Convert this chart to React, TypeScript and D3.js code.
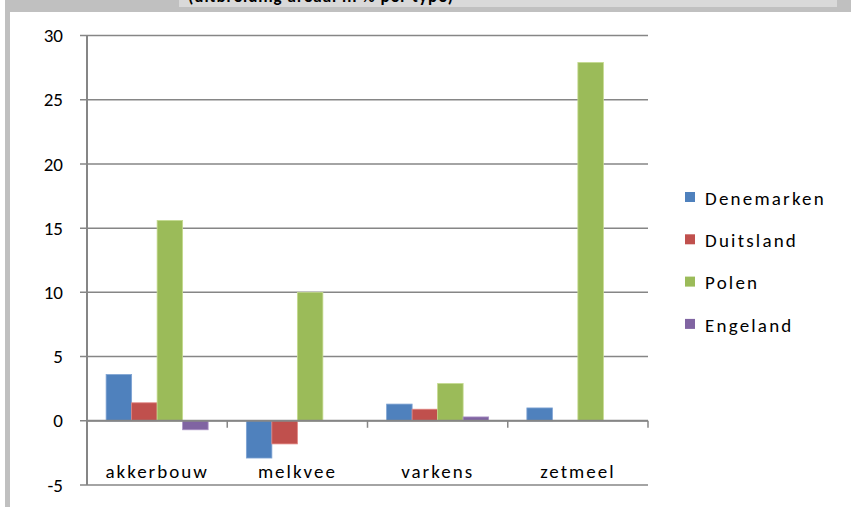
import React, { useEffect, useRef } from "react";
import * as d3 from "d3";

const categories = ["akkerbouw", "melkvee", "varkens", "zetmeel"];
const seriesNames = ["Denemarken", "Duitsland", "Polen", "Engeland"];
const denemarken = [3.6, -2.9, 1.3, 1.0];
const duitsland = [1.4, -1.8, 0.9, 0];
const polen = [15.6, 10.0, 2.9, 27.9];
const engeland = [-0.7, 0, 0.3, 0];
const yTicks = [-5, 0, 5, 10, 15, 20, 25, 30];
const colors = ["#4F81BD", "#C0504D", "#9BBB59", "#8064A2"];
const borders = ["#7EA3D3", "#E0837F", "#C4DA8E", "#A891C4"];

const W = 851;
const H = 507;

const App: React.FC = () => {
  const ref = useRef<SVGSVGElement | null>(null);

  useEffect(() => {
    if (!ref.current) return;
    const svg = d3.select(ref.current);
    svg.selectAll("*").remove();

    const values = [denemarken, duitsland, polen, engeland];
    const plot = { left: 87, right: 648, top: 35.5, bottom: 485 };
    const font = "Carlito, Lato, 'Noto Sans', sans-serif";

    // frame bits (cropped sheet)
    svg.append("rect").attr("width", W).attr("height", H).attr("fill", "#fff");
    svg.append("rect").attr("x", 5).attr("y", 0).attr("width", W - 5).attr("height", 12).attr("fill", "#C0C0C0");
    svg.append("rect").attr("x", 5).attr("y", 0).attr("width", 5).attr("height", H).attr("fill", "#C0C0C0");
    svg.append("rect").attr("x", 179).attr("y", 0).attr("width", 658).attr("height", 7).attr("fill", "#D9D9D9");
    svg.append("clipPath").attr("id", "tclip")
      .append("rect").attr("x", 179).attr("y", 0).attr("width", 658).attr("height", 7);
    svg.append("text")
      .attr("clip-path", "url(#tclip)")
      .attr("x", 188).attr("y", 2)
      .style("font-family", font).style("font-size", "17px").style("font-weight", "bold")
      .style("letter-spacing", "1px")
      .attr("fill", "#000")
      .text("(uitbreiding areaal in % per type)");

    const y = d3.scaleLinear().domain([-5, 30]).range([plot.bottom, plot.top]);
    const x0 = d3.scaleBand().domain(categories).range([plot.left, plot.right]);
    const bw = x0.bandwidth() / 5.5;
    const x1 = d3.scaleBand()
      .domain(seriesNames)
      .range([bw * 0.75, bw * 4.75]);

    const grid = "#868686";
    // gridlines + y ticks
    svg.append("g").selectAll("line").data(yTicks).join("line")
      .attr("x1", plot.left - 7).attr("x2", plot.right)
      .attr("y1", (d) => y(d)).attr("y2", (d) => y(d))
      .attr("stroke", grid).attr("stroke-width", 1.5);

    svg.append("g").selectAll("text").data(yTicks).join("text")
      .attr("x", 63).attr("y", (d) => y(d)).attr("dy", "0.35em")
      .attr("text-anchor", "end")
      .style("font-family", font).style("font-size", "19px")
      .attr("fill", "#000")
      .text((d) => d);

    // bars
    seriesNames.forEach((s, i) => {
      svg.append("g").selectAll("rect").data(values[i]).join("rect")
        .attr("x", (_, j) => (x0(categories[j]) ?? 0) + (x1(s) ?? 0))
        .attr("width", x1.bandwidth())
        .attr("y", (d) => y(Math.max(0, d)))
        .attr("height", (d) => Math.abs(y(d) - y(0)))
        .attr("fill", colors[i])
        .attr("stroke", (d) => (d === 0 ? "none" : borders[i]))
        .attr("stroke-width", 0.8);
    });

    // y axis
    svg.append("line")
      .attr("x1", plot.left).attr("x2", plot.left)
      .attr("y1", plot.top).attr("y2", plot.bottom)
      .attr("stroke", grid).attr("stroke-width", 2);

    // category axis at zero
    svg.append("line")
      .attr("x1", plot.left).attr("x2", plot.right)
      .attr("y1", y(0)).attr("y2", y(0))
      .attr("stroke", grid).attr("stroke-width", 2);
    svg.append("g").selectAll("line").data(categories).join("line")
      .attr("x1", (d) => (x0(d) ?? 0) + x0.bandwidth())
      .attr("x2", (d) => (x0(d) ?? 0) + x0.bandwidth())
      .attr("y1", y(0)).attr("y2", y(0) + 7)
      .attr("stroke", grid).attr("stroke-width", 1.5);

    svg.append("g").selectAll("text").data(categories).join("text")
      .attr("x", (d) => (x0(d) ?? 0) + x0.bandwidth() / 2)
      .attr("y", 478)
      .attr("text-anchor", "middle")
      .style("font-family", font).style("font-size", "19px")
      .style("letter-spacing", "2px")
      .attr("fill", "#000")
      .text((d) => d);

    // legend
    const lg = svg.append("g").attr("transform", "translate(685,197)");
    seriesNames.forEach((s, i) => {
      const row = lg.append("g").attr("transform", `translate(0,${i * 42.3})`);
      row.append("rect").attr("x", 0).attr("y", -5).attr("width", 10).attr("height", 10)
        .attr("fill", colors[i]);
      row.append("text").attr("x", 20).attr("y", 1).attr("dy", "0.35em")
        .style("font-family", font).style("font-size", "19px")
        .style("letter-spacing", "2.2px")
        .attr("fill", "#000")
        .text(s);
    });
  }, []);

  return (
    <svg
      ref={ref}
      width={W}
      height={H}
      style={{ position: "absolute", left: 0, top: 0 }}
    />
  );
};

export default App;
